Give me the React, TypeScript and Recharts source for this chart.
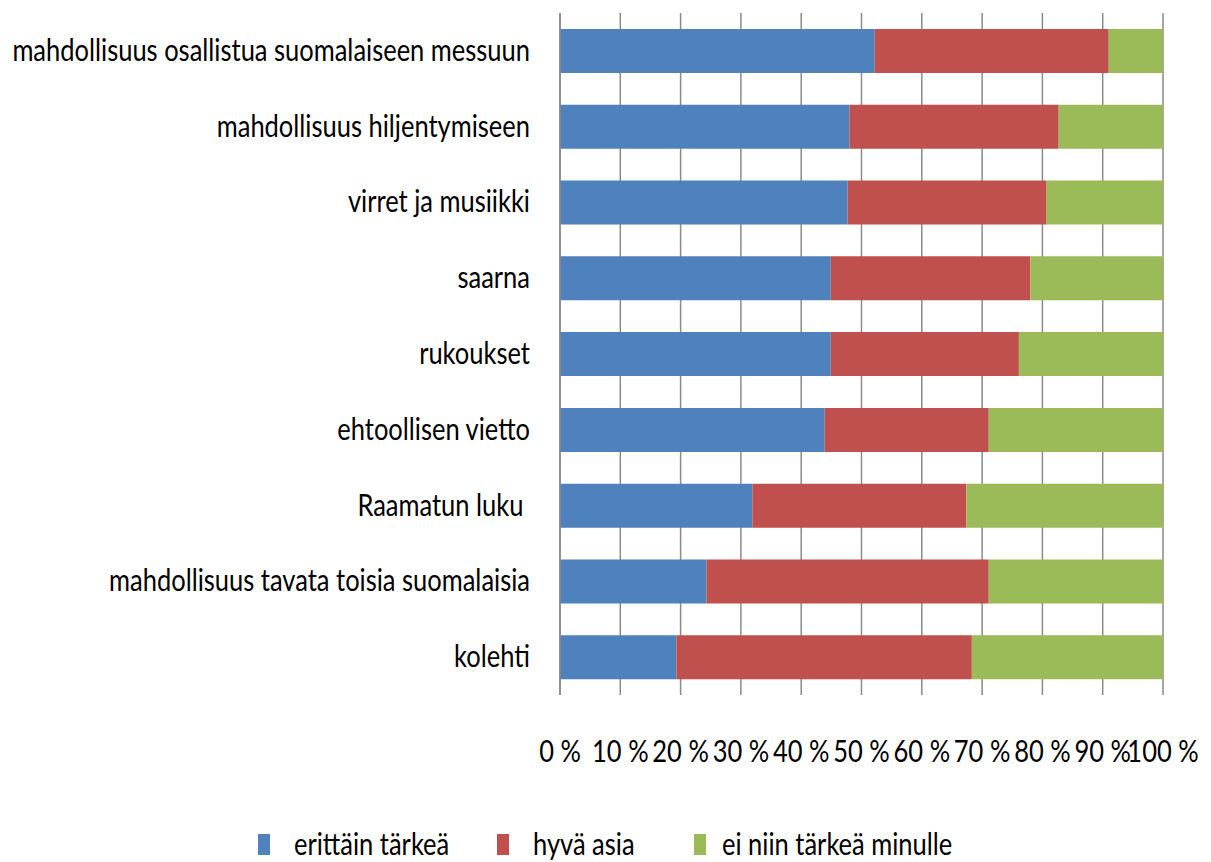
import React from 'react';
import { BarChart, Bar, XAxis, YAxis, CartesianGrid, Legend } from 'recharts';

const categories = [
  'mahdollisuus osallistua suomalaiseen messuun',
  'mahdollisuus hiljentymiseen',
  'virret ja musiikki',
  'saarna',
  'rukoukset',
  'ehtoollisen vietto',
  'Raamatun luku ',
  'mahdollisuus tavata toisia suomalaisia',
  'kolehti',
];

const erittainTarkea = [52.2, 48.0, 47.7, 44.9, 44.9, 43.9, 31.9, 24.3, 19.3];
const hyvaAsia = [38.8, 34.7, 33.0, 33.1, 31.2, 27.2, 35.5, 46.8, 49.0];
const eiNiinTarkea = [9.0, 17.3, 19.3, 22.0, 23.9, 28.9, 32.6, 28.9, 31.7];

const xTicks = [0, 10, 20, 30, 40, 50, 60, 70, 80, 90, 100];

const seriesNames = ['erittäin tärkeä', 'hyvä asia', 'ei niin tärkeä minulle'];
const colors = ['#4F81BD', '#C0504D', '#9BBB59'];

const data = categories.map((name, i) => ({
  name,
  a: erittainTarkea[i],
  b: hyvaAsia[i],
  c: eiNiinTarkea[i],
}));

const FONT = 'Lato, "Open Sans", sans-serif';
const FS = 30;
const SX = 0.85;

// squeezed text, the original uses a narrow Calibri-like face
const Squeezed = ({ x, y, anchor, children }: any) => (
  <g transform={`translate(${x},${y}) scale(${SX},1)`}>
    <text x={0} y={0} textAnchor={anchor} fontFamily={FONT} fontSize={FS} fill="#000" style={{ whiteSpace: 'pre' }}>
      {children}
    </text>
  </g>
);

const YTick = ({ x, y, payload }: any) => (
  <Squeezed x={x} y={y + 10} anchor="end">{payload.value}</Squeezed>
);

const XTick = ({ x, y, payload }: any) => (
  <Squeezed x={x} y={y + 21} anchor="middle">{`${payload.value} %`}</Squeezed>
);

// legend offsets
const legendRectX = [258, 497, 694];
const legendTextX = [294, 533, 722];

const LegendContent = () => (
  <svg width={1211} height={50} style={{ display: 'block' }}>
    {seriesNames.map((n, i) => (
      <g key={n}>
        <rect x={legendRectX[i]} y={22} width={12} height={21} fill={colors[i]} />
        <Squeezed x={legendTextX[i]} y={43} anchor="start">{n}</Squeezed>
      </g>
    ))}
  </svg>
);

export default function App() {
  return (
    <div style={{ position: 'absolute', left: 0, top: 0, width: 1211, height: 862, background: '#fff' }}>
      <BarChart
        width={1211}
        height={862}
        data={data}
        layout="vertical"
        margin={{ top: 13, right: 48, left: 0, bottom: 0 }}
        barSize={44}
      >
        <CartesianGrid horizontal={false} vertical stroke="#8a8a8a" strokeWidth={1.5} />
        <XAxis
          type="number"
          domain={[0, 100]}
          ticks={xTicks}
          interval={0}
          axisLine={false}
          tickLine={false}
          tickSize={0}
          tickMargin={46}
          height={117}
          tick={<XTick />}
        />
        <YAxis
          type="category"
          dataKey="name"
          width={560}
          axisLine={{ stroke: '#8a8a8a', strokeWidth: 1.5 }}
          tickLine={false}
          tickSize={0}
          tickMargin={30}
          interval={0}
          tick={<YTick />}
        />
        <Legend verticalAlign="bottom" height={50} content={<LegendContent />} />
        <Bar dataKey="a" stackId="s" fill={colors[0]} name={seriesNames[0]} isAnimationActive={false} />
        <Bar dataKey="b" stackId="s" fill={colors[1]} name={seriesNames[1]} isAnimationActive={false} />
        <Bar dataKey="c" stackId="s" fill={colors[2]} name={seriesNames[2]} isAnimationActive={false} />
      </BarChart>
    </div>
  );
}
